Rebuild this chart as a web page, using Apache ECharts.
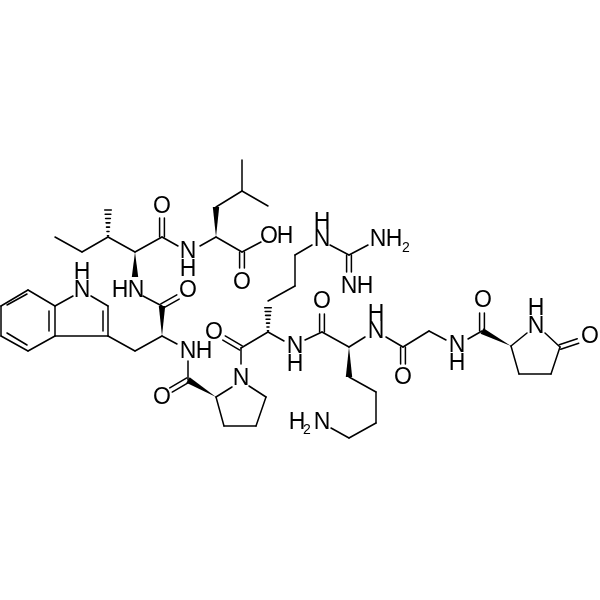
<!DOCTYPE html>
<html><head><meta charset="utf-8">
<style>html,body{margin:0;padding:0;background:#fff}#c{width:600px;height:600px}</style>
<script src="https://cdn.jsdelivr.net/npm/echarts@6/dist/echarts.min.js"></script>
</head><body><div id="c"></div>
<script>
// Each bond: [x1,y1,x2,y2]
const singleBonds = [
 [55,237,82,252],[82,252,108,237],[108,237,135,252],[135,252,162,237],[162,237,178,246],
 [200,246,216,237],[216,207,242,191],[242,191,242,160],[242,191,268,206],[216,237,242,252],[242,252,261,242],
 [28,290,55,306],[55,306,55,336],[55,336,28,351],[28,351,1,336],[1,336,1,306],[1,306,28,290],
 [55,306,73,296],[91,296,108,306],[108,306,108,336],[108,336,55,336],[108,336,135,351],[135,351,162,336],
 [143,296,162,306],[162,336,177,344],[188,361,188,380],
 [216,397,232,387],[216,397,224,426],[224,426,256,426],[256,426,266,397],[266,397,249,386],
 [241,348,241,364],[241,348,268,332],[268,332,284,341],
 [268,301,295,286],[295,286,295,255],[295,255,312,245],[330,245,349,255],[349,255,368,245],
 [305,340,322,332],[322,332,349,347],[349,347,365,337],[349,377,376,392],[376,392,376,423],[376,423,349,438],[349,438,331,428],
 [386,337,403,347],[403,347,429,331],[429,331,446,340],[468,339,482,331],
 [511,346,527,333],[545,333,560,347],[560,347,551,374],[551,374,519,374],[519,374,511,346]
];
const doubleBonds = [
 [162,237,162,218],[242,252,242,268],[162,306,178,297],[188,380,171,390],[241,348,224,338],
 [322,332,322,314],[349,255,349,272],[403,347,403,364],[482,331,482,313],[560,347,578,341]
];
const innerLines = [
 [7,305,27,294],[49,311,49,331],[7,333,27,345],[103,311,103,331]
];
const wedgeBonds = [ // narrow end first
 [135,252,135,277],[216,237,216,207],[162,336,162,306],[216,397,188,380],[349,347,349,377],[511,346,482,331]
];
const hashBonds = [ // narrow end first
 [108,237,108,207],[268,332,268,305]
];
const atomLabels = [
 ['O',162,207],['N',188,252],['H',188,270],['O',269,237],['H',285,237],['O',242,283],
 ['H',82,273],['N',82,291],['H',120,291],['N',136,291],['O',188,291],
 ['N',188,352],['H',204,352],['O',162,398],['N',241,379],['O',214,333],
 ['N',295,347],['H',295,365],['N',322,240],['H',322,223],['N',378,240],['H',394,240],
 ['N',349,287],['H',365,287],['O',322,302],['H',297,423],['N',322,423],
 ['N',376,332],['H',376,315],['O',403,378],['N',457,346],['H',457,364],['O',483,301],
 ['N',536,327],['H',536,309],['O',590,337]
];
const subscripts = [['2',406,248],['2',307,430]];

const ink = '#000';
function seg(api, b, dx, dy, lw){
  const p = api.coord([b[0]+(dx||0), b[1]+(dy||0)]), q = api.coord([b[2]+(dx||0), b[3]+(dy||0)]);
  return {type:'line', shape:{x1:p[0],y1:p[1],x2:q[0],y2:q[1]}, style:{stroke:ink,lineWidth:lw||1.5,lineCap:'round'}};
}
function normal(b){const dx=b[2]-b[0],dy=b[3]-b[1],l=Math.hypot(dx,dy);return [-dy/l,dx/l,l];}
const renderBond = {
  single:(p,api)=>seg(api,singleBonds[p.dataIndex]),
  double:(p,api)=>{const b=doubleBonds[p.dataIndex],n=normal(b),o=2.4;
    return {type:'group',children:[seg(api,b,n[0]*o,n[1]*o),seg(api,b,-n[0]*o,-n[1]*o)]};},
  inner:(p,api)=>seg(api,innerLines[p.dataIndex]),
  wedge:(p,api)=>{const b=wedgeBonds[p.dataIndex],n=normal(b),w=3.2;
    const pts=[[b[0],b[1]],[b[2]+n[0]*w,b[3]+n[1]*w],[b[2]-n[0]*w,b[3]-n[1]*w]].map(c=>api.coord(c));
    return {type:'polygon',shape:{points:pts},style:{fill:ink}};},
  hash:(p,api)=>{const b=hashBonds[p.dataIndex],n=normal(b),kids=[],N=7;
    for(let i=0;i<N;i++){const t=(i+0.3)/N,w=0.4+3.2*t,cx=b[0]+(b[2]-b[0])*t,cy=b[1]+(b[3]-b[1])*t;
      kids.push(seg(api,[cx+n[0]*w,cy+n[1]*w,cx-n[0]*w,cy-n[1]*w],0,0,1.6));}
    return {type:'group',children:kids};}
};
function bondSeries(arr,kind){
  return {type:'custom',coordinateSystem:'cartesian2d',silent:true,data:arr.map(b=>[b[0],b[1]]),renderItem:renderBond[kind],clip:false,animation:false};
}
function labelSeries(arr,size){
  return {type:'custom',coordinateSystem:'cartesian2d',silent:true,animation:false,
    data:arr.map(a=>[a[1],a[2]]),
    renderItem:(p,api)=>{const a=arr[p.dataIndex],c=api.coord([a[1],a[2]]);
      return {type:'text',style:{text:a[0],x:c[0],y:c[1],font:size+'px "Liberation Sans"',fill:ink,align:'center',verticalAlign:'middle'}};}};
}
const chart = echarts.init(document.getElementById('c'),null,{renderer:'canvas'});
chart.setOption({
  backgroundColor:'#fff',animation:false,
  grid:{left:0,right:0,top:0,bottom:0},
  xAxis:{type:'value',min:0,max:600,show:false},
  yAxis:{type:'value',min:0,max:600,inverse:true,show:false},
  series:[
    bondSeries(singleBonds,'single'),bondSeries(doubleBonds,'double'),bondSeries(innerLines,'inner'),
    bondSeries(wedgeBonds,'wedge'),bondSeries(hashBonds,'hash'),
    labelSeries(atomLabels,23),labelSeries(subscripts,14)
  ]
});
</script></body></html>
